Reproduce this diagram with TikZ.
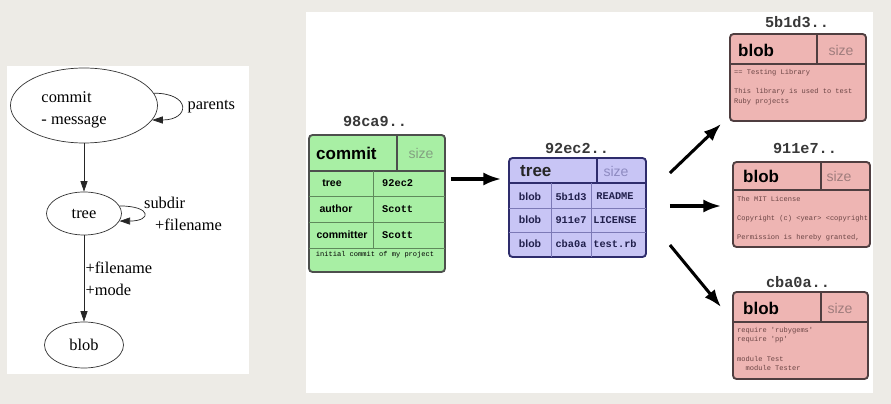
\documentclass[tikz,border=0pt]{standalone}
\usepackage{fontspec}
\setmainfont{Liberation Serif}
\setsansfont{Liberation Sans}
\setmonofont{Liberation Mono}
\usetikzlibrary{arrows.meta,shapes.geometric}

\definecolor{bgcol}{HTML}{EDEBE6}
\definecolor{commitfill}{HTML}{A8EFA4}
\definecolor{commitline}{HTML}{4D4F4D}
\definecolor{commitgrid}{HTML}{5F8A5B}
\definecolor{commitsize}{HTML}{83A181}
\definecolor{treefill}{HTML}{C8C5F5}
\definecolor{treeline}{HTML}{2E2C6C}
\definecolor{treegrid}{HTML}{7C79B6}
\definecolor{treesize}{HTML}{8E8BC1}
\definecolor{blobfill}{HTML}{EEB5B3}
\definecolor{blobline}{HTML}{4F3E40}
\definecolor{blobsize}{HTML}{A07D7D}
\definecolor{blobtext}{HTML}{6A4444}

\tikzset{
  gnode/.style={draw=black!80, ellipse, inner sep=0pt, line width=0.6pt,
    font=\fontsize{14}{18.8}\selectfont},
  garrow/.style={-{Triangle[length=9pt,width=6pt]}, draw=black!85, line width=0.6pt},
  glabel/.style={font=\fontsize{14}{18.8}\selectfont, inner sep=0pt, align=left},
  bigarrow/.style={->, line width=2.6pt},
  objbox/.style={draw=#1line, fill=#1fill, line width=1.6pt, rounded corners=3pt, inner sep=0pt},
  hashlbl/.style={font=\fontsize{13}{15}\selectfont\ttfamily\bfseries, text=black!78, inner sep=0pt},
  hdr/.style={font=\fontsize{14.5}{16}\selectfont\sffamily\bfseries, anchor=west, inner sep=0pt},
  sizelbl/.style={font=\fontsize{12}{14}\selectfont\sffamily, inner sep=0pt},
  cellkey/.style={font=\fontsize{9}{10}\selectfont\sffamily\bfseries, inner sep=0pt},
  cellval/.style={font=\fontsize{8.8}{10}\selectfont\ttfamily\bfseries, inner sep=0pt},
  tinytext/.style={font=\fontsize{6}{8.2}\selectfont\ttfamily, inner sep=0pt, align=left, anchor=north west},
}

\begin{document}
\begin{tikzpicture}[x=0.03cm, y=-0.03cm, >={Latex[length=15pt,width=11pt]}]
\fill[bgcol] (0,0) rectangle (891,404);
\useasboundingbox (0,0) rectangle (891,404);
\fill[white] (7,66) rectangle (249,374);
\fill[white] (306,12) rectangle (873,393);

% object model
\node[gnode, minimum width=4.41cm, minimum height=2.25cm, align=left] (commit) at (84,105.5) {\rule{0pt}{16.5pt}commit\\- message\hspace*{17pt}};
\node[gnode, minimum width=2.25cm, minimum height=1.29cm] (tree) at (84,213.5) {tree};
\node[gnode, minimum width=2.37cm, minimum height=1.38cm] (blob) at (84,345) {blob};

\draw[garrow] (commit) -- (tree);
\draw[garrow] (tree) -- node[glabel, right=1pt] (lblfile) {+filename\\+mode} (blob);
\draw[garrow] (commit.10) to[out=0,in=0,looseness=3.6] node[glabel, right=5pt] (lblparents) {parents} (commit.-12);
\draw[garrow] (tree.12) to[out=0,in=0,looseness=5.5] node[glabel, right=0pt] (lblsubdir) {subdir\\\hspace*{9.4pt}+filename} (tree.-12);

% commit object
\node[hashlbl] (commithash) at (375,121) {98ca9..};
\node[objbox=commit, minimum width=4.08cm, minimum height=4.11cm] (commitobj) at (377,203.5) {};
\draw[commitline, line width=1.6pt] (309,171) -- (445,171) (397,135) -- (397,171);
\draw[commitgrid, line width=0.6pt] (309,196) -- (445,196) (309,222) -- (445,222) (309,248) -- (445,248) (373,171) -- (373,248);
\node[hdr] (commithdr) at (316,153) {commit};
\node[sizelbl, text=commitsize] (commitsz) at (421,153) {size};
\node[cellkey] (ckey1) at (332,183) {tree};
\node[cellkey] (ckey2) at (336,209) {author};
\node[cellkey] (ckey3) at (342,235) {committer};
\node[cellval, anchor=west] (cval1) at (382,183) {92ec2};
\node[cellval, anchor=west] (cval2) at (382,209) {Scott};
\node[cellval, anchor=west] (cval3) at (382,235) {Scott};
\node[tinytext, anchor=center] (cmsg) at (375,255) {initial commit of my project};

% tree object
\node[hashlbl] (treehash) at (577,148) {92ec2..};
\node[objbox=tree, minimum width=4.11cm, minimum height=2.97cm] (treeobj) at (577.5,207.5) {};
\draw[treeline, line width=1.6pt] (509,183) -- (646,183) (597,158) -- (597,183);
\draw[treegrid, line width=0.6pt] (509,208) -- (646,208) (509,232) -- (646,232) (551,183) -- (551,257) (591,183) -- (591,257);
\node[hdr, text=black!85] (treehdr) at (520,171) {tree};
\node[sizelbl, text=treesize] (treesz) at (616,171) {size};
\node[cellkey, text=treeline!70!black] (tkey1) at (530,196.5) {blob};
\node[cellkey, text=treeline!70!black] (tkey2) at (530,220) {blob};
\node[cellkey, text=treeline!70!black] (tkey3) at (530,243.5) {blob};
\node[cellval, text=treeline!70!black] (tsha1) at (571,196.5) {5b1d3};
\node[cellval, text=treeline!70!black] (tsha2) at (571,220) {911e7};
\node[cellval, text=treeline!70!black] (tsha3) at (571,243.5) {cba0a};
\node[cellval, text=treeline!70!black] (tname1) at (615,196.5) {README};
\node[cellval, text=treeline!70!black] (tname2) at (615,220) {LICENSE};
\node[cellval, text=treeline!70!black] (tname3) at (615,243.5) {test.rb};

% blob objects
\node[hashlbl] (hashA) at (797,22) {5b1d3..};
\node[objbox=blob, minimum width=4.08cm, minimum height=2.61cm] (blobA) at (798,77.5) {};
\draw[blobline, line width=1.6pt] (730,64) -- (866,64) (817,34) -- (817,64);
\node[hdr] (hdrA) at (738,50) {blob};
\node[sizelbl, text=blobsize] (sizeA) at (841,50) {size};
\node[tinytext, text=blobtext] (textA) at (734,69) {== Testing Library\\[8.2pt]This library is used to test\\Ruby projects};

\node[hashlbl] (hashB) at (805,148) {911e7..};
\node[objbox=blob, minimum width=4.11cm, minimum height=2.55cm] (blobB) at (801.5,204.5) {};
\draw[blobline, line width=1.6pt] (733,190) -- (870,190) (821,162) -- (821,190);
\node[hdr] (hdrB) at (743,176) {blob};
\node[sizelbl, text=blobsize] (sizeB) at (839,176) {size};
\node[tinytext, text=blobtext] (textB) at (737,196) {The MIT License\\[8.2pt]Copyright (c) <year> <copyright\\[8.2pt]Permission is hereby granted,};

\node[hashlbl] (hashC) at (798,282) {cba0a..};
\node[objbox=blob, minimum width=4.05cm, minimum height=2.61cm] (blobC) at (800.5,335.5) {};
\draw[blobline, line width=1.6pt] (733,322) -- (868,322) (821,292) -- (821,322);
\node[hdr] (hdrC) at (743,308) {blob};
\node[sizelbl, text=blobsize] (sizeC) at (840,308) {size};
\node[tinytext, text=blobtext] (textC) at (737,327) {require 'rubygems'\\require 'pp'\\[8.2pt]module Test\\\hspace*{7.2pt}module Tester};

\draw[bigarrow] ([shift={(5,-24.5)}]commitobj.east) -- ([shift={(-7,-28.5)}]treeobj.west);
\draw[bigarrow] ([shift={(23,-34.5)}]treeobj.east) -- ([shift={(-8,2)}]blobA.south west);
\draw[bigarrow] ([shift={(23,-1.5)}]treeobj.east) -- ([shift={(-11,1.5)}]blobB.west);
\draw[bigarrow] ([shift={(23,37.5)}]treeobj.east) -- ([shift={(-11,16)}]blobC.north west);

\end{tikzpicture}
\end{document}
